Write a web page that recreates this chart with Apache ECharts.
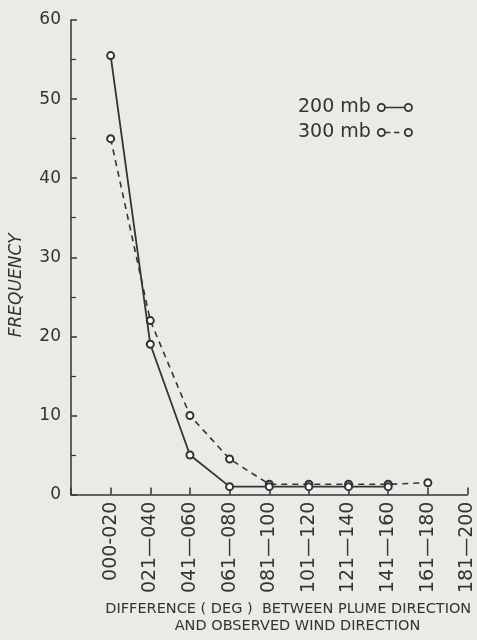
<!DOCTYPE html>
<html>
<head>
<meta charset="utf-8">
<script src="https://cdn.jsdelivr.net/npm/echarts@6/dist/echarts.min.js"></script>
<style>
html,body{margin:0;padding:0;background:#eaeae6;}
#chart{width:477px;height:640px;}
</style>
</head>
<body>
<div id="chart"></div>
<script>
var categories = ['000-020','021\u2014040','041\u2014060','061\u2014080','081\u2014100','101\u2014120','121\u2014140','141\u2014160','161\u2014180','181\u2014200'];
var yTicks = [0,10,20,30,40,50,60];
var series200 = [55.5, 19, 5, 1, 1, 1, 1, 1];
var series300 = [45, 22, 10, 4.5, 1.3, 1.3, 1.3, 1.3, 1.5];
var seriesNames = ['200 mb', '300 mb'];

function pairs(vals){ return vals.map(function(v,i){ return [i+1, v]; }); }

var ink = '#333333';
var font = '"DejaVu Sans", "Liberation Sans", sans-serif';

var chart = echarts.init(document.getElementById('chart'));
var ringPathSolid = 'path://M0,5A5,5 0 1,1 10,5A5,5 0 1,1 0,5ZM2,5A3,3 0 1,0 8,5A3,3 0 1,0 2,5ZM10,4.2L30,4.2L30,5.8L10,5.8ZM30,5A5,5 0 1,1 40,5A5,5 0 1,1 30,5ZM32,5A3,3 0 1,0 38,5A3,3 0 1,0 32,5Z';
var ringPathDash = 'path://M0,5A5,5 0 1,1 10,5A5,5 0 1,1 0,5ZM2,5A3,3 0 1,0 8,5A3,3 0 1,0 2,5ZM10,4.2L15,4.2L15,5.8L10,5.8ZM19,4.2L25,4.2L25,5.8L19,5.8ZM30,5A5,5 0 1,1 40,5A5,5 0 1,1 30,5ZM32,5A3,3 0 1,0 38,5A3,3 0 1,0 32,5Z';

chart.setOption({
  backgroundColor: '#eaeae6',
  animation: false,
  grid: {left: 66, right: 8, top: 20, bottom: 134, containLabel: false},
  legend: {
    orient: 'vertical',
    left: 293, top: 93,
    align: 'right',
    itemGap: 6,
    itemWidth: 38, itemHeight: 9,
    textStyle: {color: ink, fontSize: 19, fontFamily: font},
    data: [
      {name: seriesNames[0], icon: ringPathSolid, itemStyle:{color: ink, borderWidth:0}, lineStyle:{width:0}},
      {name: seriesNames[1], icon: ringPathDash, itemStyle:{color: ink, borderWidth:0}, lineStyle:{width:0}}
    ]
  },
  xAxis: {
    type: 'value', min: 0, max: 10, interval: 1,
    name: 'DIFFERENCE ( DEG )  BETWEEN PLUME DIRECTION\n    AND OBSERVED WIND DIRECTION',
    nameLocation: 'middle', nameGap: 103,
    nameTextStyle: {color: ink, fontSize: 14.5, fontFamily: font, lineHeight: 17, padding:[0,0,0,38]},
    axisLine: {show: true, onZero: false, lineStyle: {color: ink, width: 1.5}},
    axisTick: {show: true, inside: true, length: 7, lineStyle: {color: ink, width: 1.5}},
    splitLine: {show: false},
    axisLabel: {
      rotate: 90, margin: 7, color: ink, fontSize: 19, fontFamily: font,
      formatter: function(v){ return v >= 1 ? categories[v-1] : ''; }
    }
  },
  yAxis: {
    type: 'value', min: yTicks[0], max: yTicks[yTicks.length-1], interval: 10,
    name: 'FREQUENCY', nameLocation: 'middle', nameGap: 46,
    nameTextStyle: {color: ink, fontSize: 17, fontStyle: 'italic', fontFamily: font, padding:[0,56,0,0]},
    axisLine: {show: true, lineStyle: {color: ink, width: 1.5}},
    axisTick: {show: true, inside: true, length: 6, lineStyle: {color: ink, width: 1.5}},
    minorTick: {show: true, splitNumber: 2, length: 5, lineStyle: {color: ink, width: 1.2}},
    splitLine: {show: false},
    axisLabel: {color: ink, fontSize: 17, fontFamily: font, margin: 10}
  },
  series: [
    {
      name: seriesNames[0], type: 'line', data: pairs(series200),
      symbol: 'emptyCircle', symbolSize: 7, z: 3,
      lineStyle: {color: ink, width: 1.8},
      itemStyle: {color: ink, borderWidth: 1.3}
    },
    {
      name: seriesNames[1], type: 'line', data: pairs(series300),
      symbol: 'emptyCircle', symbolSize: 7, z: 2,
      lineStyle: {color: ink, width: 1.6, type: [6,5]},
      itemStyle: {color: ink, borderWidth: 1.3}
    }
  ]
});
</script>
</body>
</html>
